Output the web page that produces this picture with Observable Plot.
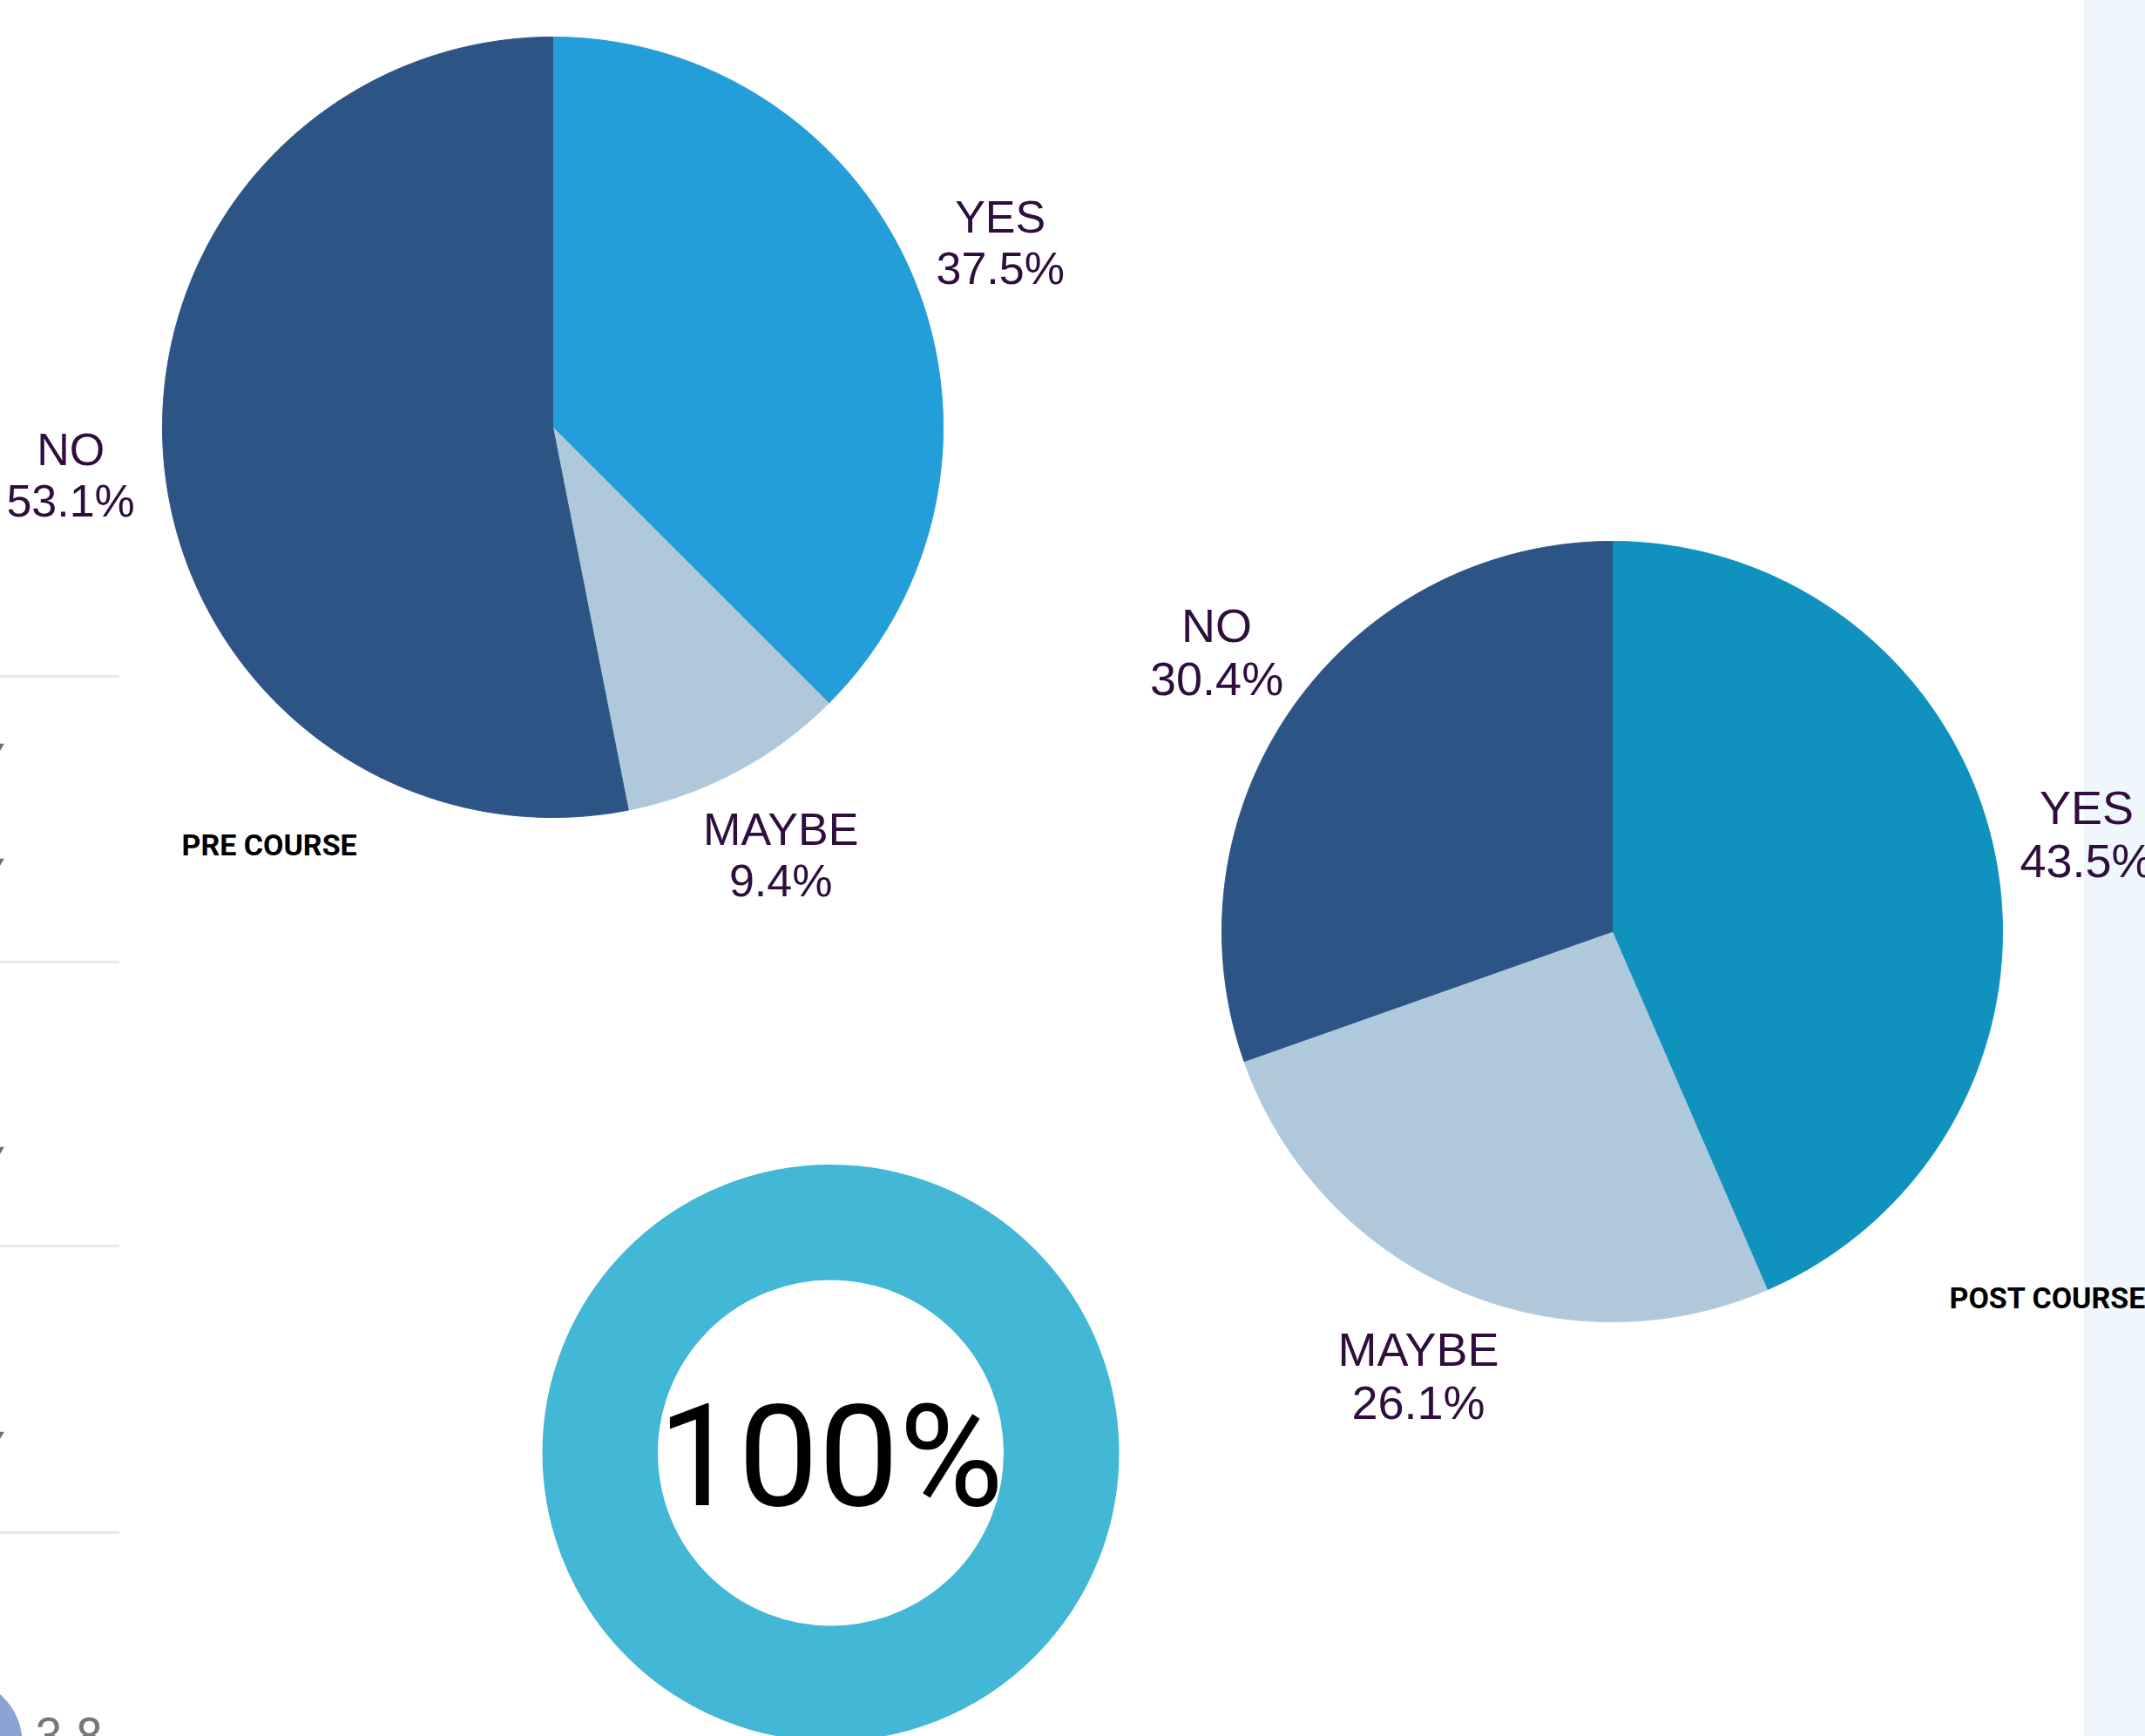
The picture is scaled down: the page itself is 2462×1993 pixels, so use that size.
<!DOCTYPE html>
<html>
<head>
<meta charset="utf-8">
<script src="https://cdn.jsdelivr.net/npm/d3@7"></script>
<script src="https://cdn.jsdelivr.net/npm/@observablehq/plot@0.6"></script>
<style>
  html, body { margin: 0; padding: 0; background: #ffffff; overflow: hidden; }
  #chart svg { display: block; }
</style>
</head>
<body>
<div id="chart"></div>
<script>
// ---------- data ----------
const categories = ["YES", "MAYBE", "NO"];
const preCourseValues = [37.5, 9.4, 53.1];
const postCourseValues = [43.5, 26.1, 30.4];
const completionValues = [100];
const chartTitles = ["PRE COURSE", "POST COURSE"];
const sideRowValues = ["3.8"];

// ---------- styles / layout ----------
const preColors = ["#239ED8", "#B0C8DC", "#2C5485"];
const postColors = ["#1092BE", "#B0C8DC", "#2C5485"];
const completionColor = "#42B8D6";
const labelColor = "#2F0E3E";

const W = 2462, H = 1993;
const pies = [
  {name: chartTitles[0], values: preCourseValues, colors: preColors, cx: 634, cy: 490, r: 448, tx: 208, ty: 971, fs: 52},
  {name: chartTitles[1], values: postCourseValues, colors: postColors, cx: 1850, cy: 1069, r: 448, tx: 2237, ty: 1491, fs: 54}
];
const labelRadius = 556;
const donut = {cx: 953, cy: 1667.5, outer: 331, inner: 198.5};

const polar = (cx, cy, r, deg) => [cx + r * Math.sin(deg * Math.PI / 180), cy - r * Math.cos(deg * Math.PI / 180)];

const slicePoints = [];
const sliceLabels = [];
const titleRows = [];
for (const p of pies) {
  const total = d3.sum(p.values);
  let acc = 0;
  p.values.forEach((v, i) => {
    const a0 = acc / total * 360, a1 = (acc + v) / total * 360;
    const key = p.name + "|" + categories[i];
    const color = p.colors[i];
    slicePoints.push({key, color, px: p.cx, py: p.cy});
    const n = Math.max(2, Math.ceil((a1 - a0) * 4));
    for (let k = 0; k <= n; k++) {
      const [px, py] = polar(p.cx, p.cy, p.r, a0 + (a1 - a0) * k / n);
      slicePoints.push({key, color, px, py});
    }
    slicePoints.push({key, color, px: p.cx, py: p.cy});
    const [lx, ly] = polar(p.cx, p.cy, labelRadius, (a0 + a1) / 2);
    sliceLabels.push({lx, ly, fs: p.fs, text: `${categories[i]}\n${v.toFixed(1)}%`});
    acc += v;
  });
  titleRows.push({tx: p.tx, ty: p.ty, text: p.name});
}

const dividerY = [776, 1104, 1430, 1759];
const chevronY = [858, 990, 1321, 1648];

const plot = Plot.plot({
  width: W,
  height: H,
  margin: 0,
  x: {domain: [0, W], range: [0, W], axis: null},
  y: {domain: [0, H], range: [0, H], axis: null},
  color: {type: "identity"},
  style: {background: "#ffffff"},
  marks: [
    // right side panel
    Plot.rect([0], {x1: 2392, x2: W, y1: 0, y2: H, fill: "#EFF7FD"}),
    // left page remnants
    Plot.ruleY(dividerY, {y: d => d, x1: 0, x2: 137, stroke: "#E8E8E8", strokeWidth: 3}),
    Plot.dot(chevronY, {x: -4, y: d => d, symbol: "triangle2", rotate: 180, r: 8, fill: "#6E6E6E", stroke: "none"}),
    Plot.dot(sideRowValues, {x: -48, y: 2000, r: 73, fill: "#8BA3D2", stroke: "none"}),
    Plot.text(sideRowValues, {x: 40, y: 1972, text: d => d, textAnchor: "start", lineAnchor: "top", fontSize: 56, fill: "#777777", fontFamily: "Roboto"}),
    // pie slices
    Plot.line(slicePoints, {x: "px", y: "py", z: "key", fill: "color", stroke: "color", strokeWidth: 1, curve: "linear"}),
    // donut
    Plot.dot(completionValues, {x: () => donut.cx, y: () => donut.cy, r: (donut.outer + donut.inner) / 2, fill: "none", stroke: completionColor, strokeWidth: donut.outer - donut.inner}),
    Plot.text(completionValues, {x: () => donut.cx, y: () => 1727, text: d => `${d}%`, textAnchor: "middle", lineAnchor: "bottom", fontSize: 164, fill: "#000000", fontFamily: "Roboto"}),
    // slice labels
    Plot.text(sliceLabels, {x: "lx", y: "ly", text: "text", textAnchor: "middle", lineAnchor: "middle", lineHeight: 1.13, fontSize: "fs", fill: labelColor, fontFamily: "Liberation Sans"}),
    // chart titles
    Plot.text(titleRows, {x: "tx", y: "ty", text: "text", textAnchor: "start", lineAnchor: "middle", fontSize: 34, fontWeight: 700, fill: "#000000", fontFamily: "Roboto"})
  ]
});
document.getElementById("chart").appendChild(plot);
</script>
</body>
</html>
